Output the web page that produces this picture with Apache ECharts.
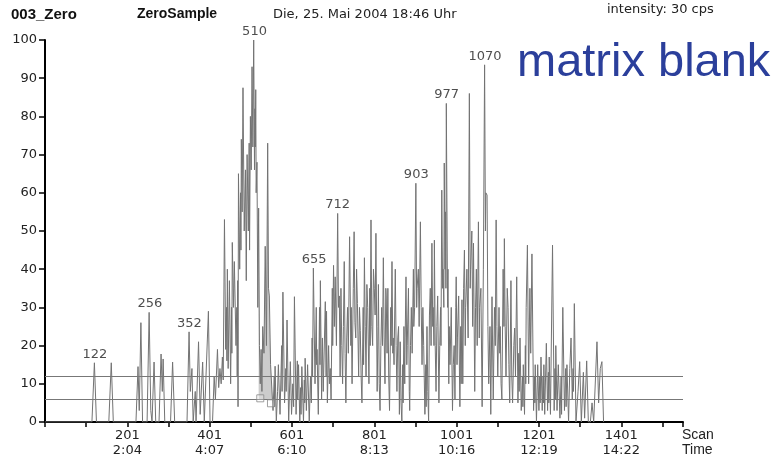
<!DOCTYPE html>
<html>
<head>
<meta charset="utf-8">
<script src="https://cdn.jsdelivr.net/npm/echarts@6/dist/echarts.min.js"></script>
<style>html,body{margin:0;padding:0;background:#fff}#c{width:778px;height:459px}</style>
</head>
<body>
<div id="c"></div>
<script>
// ---- data: [scan, intensity %] turning points of the trace ----
const tracePoints = [
  [1,0],[115,0],[121,15.5],[126,0],[156,0],[162,15.5],[167,0],
  [222,0],[227,14.5],[230,3],[234,26],[238,0],[249,0],[254,28.7],[258,3],[261,0],[266,15.7],[270,0],
  [278,0],[283,17.8],[286,8],[288,16.5],[292,0],[306,0],[311,15.7],[316,0],
  [346,0],[351,23.6],[354,8],[358,14],[361,0],[364,0],[366,8],[368,0],[374,21],[378,2],[384,15.7],[388,0],
  [392,0],[398,29],[402,0],[408,0],[412,12],[415,6],[420,19],[423,9],[426,14],[429,10],[432,17],[434,11],
  [437,53],[440,19],[442,30],[443,16],[444,40],[446,14],[449,37],[452,10],[454,30],[455,18],[456,47],[459,30],
  [461,42],[465,20],[467,30],[468,12],[469,37],[470,4],[471,65],[474,40],[476,60],[477,45],[478,74],[480,55],
  [482,87.5],[485,50],[488,66],[490,37],[492,70],[495,50],[497,73],[498,45],[500,80],[502,66],[504,93],
  [506,72],[508,100],[510,66],[511,82],[512,72],[513,87],[514,60],[516,68],[518,30],[520,56],[522,20],
  [524,10],[526,19],[528,8],[530,25],[533,18],[536,46],[539,20],[542,73],[544,35],[546,33],[549,15],
  [552,15],[555,3],[558,12],[559,4],[560,14.6],[563,0],[566,8],[568,15],[572,2],[576,20],[577,8],[579,34],
  [583,5],[586,14],[587,8],[589,26.7],[593,0],[597,15.8],[600,2],[603,10],[605,4],[607,32.8],[611,2],
  [614,16],[615,6],[617,15],[620,0],[622,9],[623,2],[625,14.5],[629,0],[631,11],[632,5],[633,16.7],[636,3],
  [639,15],[643,0],[646,12],[648,5],[650,22],[651,12],[653,40.3],[657,10],[660,30],[661,15],[662,19],[665,2],
  [668,30],[669,15],[670,37],[673,6],[675,22],[677,8],[682,31.5],[684,12],[685,29],[687,5],[690,20],[692,10],
  [694,14],[696,6],[699,35],[700,20],[702,41],[704,25],[706,38],[709,20],[712,54.6],[714,30],[716,33],
  [718,12],[720,35],[722,20],[724,10],[726,25],[728,42],[730,18],[732,5],[734,22],[736,30],[738,18],
  [741,48.5],[744,20],[745,30],[747,10],[750,35],[752,49.8],[754,26],[756,22],[758,40],[760,31],[763,12],
  [765,30],[767,24],[769,12],[771,5],[774,30],[775,15],[777,43],[779,25],[781,12],[783,36],[785,30],
  [788,10],[790,35],[791,20],[793,52.9],[795,25],[797,20],[799,40],[801,35],[803,28],[805,49.4],[808,8],
  [810,25],[811,36],[813,10],[815,3],[817,20],[819,30],[821,20],[823,43],[825,22],[827,10],[829,35],
  [830,33],[832,18],[834,35],[836,12],[838,3],[841,30],[842,20],[844,42],[846,18],[847,22],[849,15],
  [852,40],[854,20],[856,8],[858,22],[860,25],[862,2],[864,21],[866,5],[868,0],[870,15],[871,5],[873,25],
  [875,10],[876,22],[878,38],[880,15],[881,20],[884,35],[886,8],[887,3],[889,20],[891,30],[893,18],
  [896,40],[897,25],[899,30],[902,62.5],[904,30],[905,35],[908,40],[910,25],[913,52.4],[915,30],[917,15],
  [919,30],[921,20],[924,2],[926,15],[927,4],[929,25],[931,8],[933,0],[935,28],[937,35],[939,20],
  [941,46.8],[943,25],[944,30],[946,20],[947,47.6],[949,20],[951,8],[953,25],[955,33],[958,5],[960,20],
  [962,30],[963,20],[965,60.7],[967,35],[968,40],[970,30],[971,67.8],[973,40],[974,55],[975,35],[976,83.4],
  [979,30],[980,40],[982,10],[983,25],[985,15],[988,30],[991,3],[993,15],[995,20],[997,6],[999,30],
  [1000,38],[1002,15],[1003,22],[1006,33],[1008,12],[1009,4],[1011,25],[1012,10],[1014,32],[1016,10],
  [1018,35],[1020,45],[1022,20],[1023,30],[1026,40],[1029,22],[1032,86],[1034,35],[1035,40],[1038,50],
  [1040,25],[1042,46.8],[1045,8],[1047,30],[1049,40],[1051,20],[1054,52.4],[1056,22],[1057,30],[1060,35],
  [1063,4],[1066,40],[1069,93.5],[1071,50],[1072,60],[1075,59.4],[1077,25],[1079,10],[1082,25],[1084,2],
  [1087,32.8],[1090,6],[1093,30],[1095,20],[1097,52.9],[1099,25],[1101,12],[1104,30],[1106,18],[1107,25],
  [1109,10],[1111,6],[1114,40],[1116,25],[1117,48],[1119,25],[1121,12],[1124,35],[1126,30],[1128,15],
  [1130,5],[1133,37],[1135,12],[1137,5],[1140,20],[1142,24.6],[1144,12],[1147,38],[1150,5],[1152,18],
  [1153,8],[1155,22],[1158,3],[1161,12],[1162,4],[1163,15],[1166,2],[1168,20],[1169,10],[1170,30],
  [1173,46.3],[1176,10],[1179,35],[1181,18],[1184,44],[1188,3],[1190,12],[1191,5],[1192,15],[1195,0],
  [1198,15],[1201,3],[1203,12],[1204,5],[1206,17],[1209,3],[1211,12],[1212,5],[1213,15],[1215,2],
  [1219,20.6],[1222,3],[1224,13],[1225,5],[1226,17],[1229,2],[1234,46.3],[1238,3],[1240,14],[1241,6],
  [1242,20],[1245,3],[1248,15],[1252,1],[1255,12],[1256,2],[1259,30],[1263,3],[1266,14],[1267,4],
  [1269,15],[1273,0],[1276,14],[1279,22],[1282,6],[1284,14],[1285,8],[1287,31],[1291,0],[1296,8],
  [1300,15.8],[1304,0],[1309,13],[1312,1],[1317,16],[1321,0],[1326,0],[1330,5],[1334,0],[1338,0],
  [1342,21],[1346,5],[1350,14],[1354,15.8],[1358,0]
];
const thresholds = [12, 6];
const peakLabels = [122, 256, 352, 510, 655, 712, 903, 977, 1070];
const peakHeights = [15.5, 28.7, 23.6, 100, 40.3, 54.6, 62.5, 83.4, 93.5];
const integrationStart = 520, integrationEnd = 556, integrationBase = 6;
const baselineMarks = [[524, 6.2], [550, 4.9]];
const tickScans = [201, 401, 601, 801, 1001, 1201, 1401];
const tickTimes = ['2:04', '4:07', '6:10', '8:13', '10:16', '12:19', '14:22'];

// ---- build ----
const shaded = tracePoints.filter(p => p[0] >= integrationStart && p[0] <= integrationEnd);
const FONT = '"Liberation Sans", Arial, Helvetica, sans-serif';
const NUMFONT = '"DejaVu Sans", "Liberation Sans", sans-serif';

const chart = echarts.init(document.getElementById('c'), null, {renderer: 'canvas'});
chart.setOption({
  animation: false,
  backgroundColor: '#fff',
  grid: {left: 45, right: 95, top: 40, bottom: 37, containLabel: false},
  xAxis: {
    type: 'value', min: 1, max: 1551, interval: 100,
    axisLine: {show: true, lineStyle: {color: '#000', width: 2}},
    axisTick: {show: true, length: 5, inside: false, lineStyle: {color: '#000', width: 1.5}},
    splitLine: {show: false},
    axisLabel: {
      show: true, margin: 6, color: '#222', fontFamily: NUMFONT, fontSize: 13, lineHeight: 15,
      showMinLabel: true, showMaxLabel: true,
      formatter: function (v) {
        const i = tickScans.indexOf(Math.round(v));
        return i >= 0 ? tickScans[i] + '\n' + tickTimes[i] : '';
      }
    }
  },
  yAxis: {
    type: 'value', min: 0, max: 100, interval: 10,
    axisLine: {show: true, lineStyle: {color: '#000', width: 2}},
    axisTick: {show: true, length: 6, inside: false, lineStyle: {color: '#000', width: 1.5}},
    splitLine: {show: false},
    axisLabel: {show: true, margin: 8, color: '#222', fontFamily: NUMFONT, fontSize: 13}
  },
  series: [
    {
      type: 'line', data: shaded, symbol: 'none', silent: true, z: 1,
      lineStyle: {width: 0},
      areaStyle: {color: 'rgba(150,150,150,0.7)', origin: integrationBase}
    },
    {
      type: 'line', data: tracePoints, symbol: 'none', showSymbol: false, silent: true, z: 2,
      sampling: null,
      lineStyle: {color: '#737373', width: 1},
      markLine: {
        silent: true, symbol: ['none', 'none'], label: {show: false},
        lineStyle: {color: '#777', width: 1, type: 'solid'},
        data: thresholds.map(t => ({yAxis: t}))
      }
    },
    {
      type: 'scatter', data: baselineMarks, symbol: 'rect', symbolSize: 7, silent: true, z: 5,
      itemStyle: {color: 'rgba(255,255,255,0.3)', borderColor: '#888', borderWidth: 1}
    },
    {
      type: 'scatter', silent: true, z: 4, symbolSize: 0,
      data: peakLabels.map((s, i) => [s, peakHeights[i]]),
      label: {
        show: true, position: 'top', distance: 2, color: '#222', fontFamily: NUMFONT, fontSize: 13,
        formatter: p => String(p.data[0])
      }
    }
  ],
  graphic: [
    {type: 'text', left: 11, top: 7, style: {text: '003_Zero', font: 'bold 15px ' + FONT, fill: '#111'}},
    {type: 'text', left: 137, top: 7, style: {text: 'ZeroSample', font: 'bold 14px ' + FONT, fill: '#111'}},
    {type: 'text', left: 273, top: 8, style: {text: 'Die, 25. Mai 2004 18:46 Uhr', font: '13px ' + NUMFONT, fill: '#222'}},
    {type: 'text', left: 607, top: 3, style: {text: 'intensity: 30 cps', font: '13px ' + NUMFONT, fill: '#222'}},
    {type: 'text', left: 517, top: 40, style: {text: 'matrix blank', font: '47px ' + FONT, fill: '#2b3f9b'}},
    {type: 'text', left: 682, top: 428, style: {text: 'Scan', font: '14px ' + FONT, fill: '#222'}},
    {type: 'text', left: 682, top: 443, style: {text: 'Time', font: '14px ' + FONT, fill: '#222'}}
  ]
});
</script>
</body>
</html>
